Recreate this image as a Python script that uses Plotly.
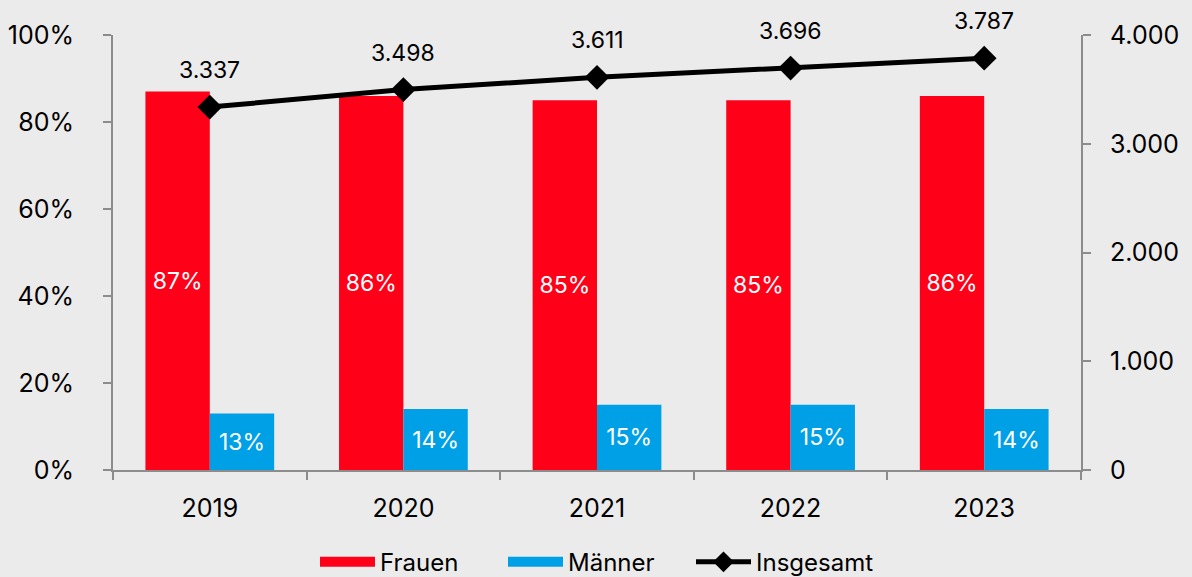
import plotly.graph_objects as go

years = ["2019", "2020", "2021", "2022", "2023"]
frauen = [0.87, 0.86, 0.85, 0.85, 0.86]
maenner = [0.13, 0.14, 0.15, 0.15, 0.14]
insgesamt = [3337, 3498, 3611, 3696, 3787]

RED = "#ff0019"
BLUE = "#00a0e6"
BG = "#ebebeb"
AX = "#8c8c8c"
FONT = "Inter, Liberation Sans, sans-serif"

def pct(v):
    return f"{round(v*100)}%"

def thousands(v):
    return f"{v:,}".replace(",", ".")

fig = go.Figure()
fig.add_trace(go.Bar(x=years, y=frauen, name="Frauen", marker=dict(color=RED, line=dict(width=0)),
                     text=[pct(v) for v in frauen], textposition="inside", insidetextanchor="middle",
                     textfont=dict(color="white", size=23, family=FONT), showlegend=False, textangle=0))
fig.add_trace(go.Bar(x=years, y=maenner, name="Männer", marker=dict(color=BLUE, line=dict(width=0)),
                     text=[pct(v) for v in maenner], textposition="inside", insidetextanchor="middle",
                     textfont=dict(color="white", size=23, family=FONT), showlegend=False, textangle=0))
# legend-only swatches
fig.add_trace(go.Scatter(x=[years[0]], y=[None], mode="lines", name="Frauen",
                         line=dict(color=RED, width=18), hoverinfo="skip"))
fig.add_trace(go.Scatter(x=[years[0]], y=[None], mode="lines", name="Männer",
                         line=dict(color=BLUE, width=18), hoverinfo="skip"))
fig.add_trace(go.Scatter(x=years, y=insgesamt, name="Insgesamt", mode="lines+markers", yaxis="y2",
                         line=dict(color="black", width=5),
                         marker=dict(symbol="diamond", size=19, color="black")))

for i, v in enumerate(insgesamt):
    fig.add_annotation(x=i, y=v, xref="x", yref="y2", text=thousands(v), showarrow=False,
                       yshift=37, font=dict(size=23, color="black", family=FONT))

fig.update_layout(
    width=1192, height=577,
    paper_bgcolor=BG, plot_bgcolor=BG,
    margin=dict(l=113, r=111, t=35, b=107, autoexpand=False),
    font=dict(family=FONT, size=24, color="black"),
    barmode="group", bargap=0.335, bargroupgap=0,
    separators=",.",
    showlegend=True,
    legend=dict(orientation="h", x=0.5, xanchor="center", y=-0.212, yanchor="middle",
                font=dict(size=24, family=FONT), itemwidth=55, traceorder="normal",
                entrywidth=118, entrywidthmode="pixels",
                bgcolor="rgba(0,0,0,0)"),
    xaxis=dict(type="category", categoryorder="array", categoryarray=years, range=[-0.5, len(years) - 0.5],
               showline=True, linecolor=AX, linewidth=2, ticks="outside",
               tickson="boundaries", ticklen=8, tickcolor=AX, tickwidth=2, showgrid=False,
               ticklabelstandoff=15, tickfont=dict(size=25), tickangle=0),
    yaxis=dict(range=[0, 1], tickformat=".0%", tickvals=[0, 0.2, 0.4, 0.6, 0.8, 1.0],
               showline=True, linecolor=AX, linewidth=2, ticks="outside", ticklen=8,
               tickcolor=AX, tickwidth=2, showgrid=False, zeroline=False,
               ticklabelstandoff=24, tickfont=dict(size=25)),
    yaxis2=dict(range=[0, 4000], overlaying="y", side="right", tickvals=[0, 1000, 2000, 3000, 4000],
                tickformat=",d", showline=True, linecolor=AX, linewidth=2, ticks="outside", ticklen=8,
                tickcolor=AX, tickwidth=2, showgrid=False, zeroline=False,
                ticklabelstandoff=14, tickfont=dict(size=25)),
)

fig.write_html("out.html", config={"displayModeBar": False},
               post_script="document.body.style.margin='0';document.body.style.background='%s';" % BG)
